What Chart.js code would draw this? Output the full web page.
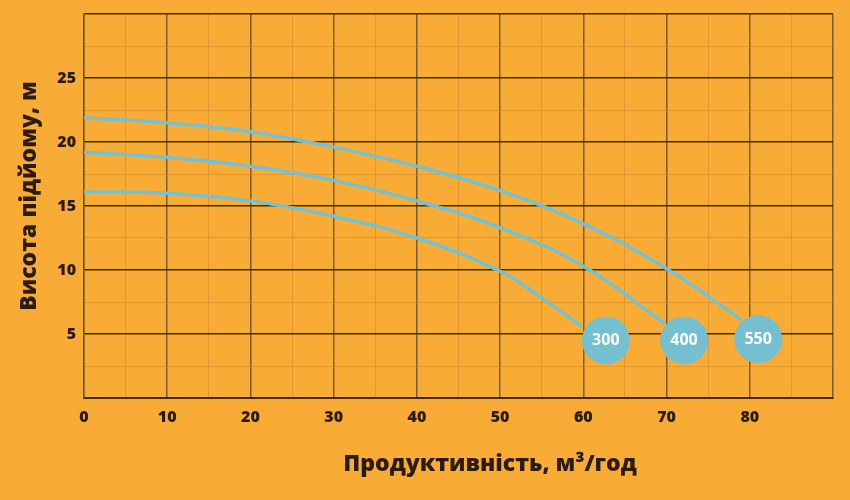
<!DOCTYPE html>
<html>
<head>
<meta charset="utf-8">
<script src="https://cdn.jsdelivr.net/npm/chart.js@4"></script>
<style>
  html, body { margin: 0; padding: 0; background: #F8AC36; }
  #wrap { width: 850px; height: 500px; }
</style>
</head>
<body>
<div id="wrap"><canvas id="c" width="850" height="500"></canvas></div>
<script>
// Flow (m³/h) and head (m)
const q550 = [0, 10, 20, 30, 40, 50, 60, 70, 79];
const h550 = [21.9, 21.5, 20.8, 19.6, 18.1, 16.2, 13.6, 10.1, 6.1];
const q400 = [0, 10, 20, 30, 40, 50, 60, 69.8];
const h400 = [19.2, 18.8, 18.1, 17.0, 15.4, 13.3, 10.3, 5.8];
const q300 = [0, 10, 20, 30, 40, 50, 55, 59.8];
const h300 = [16.1, 16.0, 15.4, 14.2, 12.5, 9.9, 7.8, 5.6];

const badgeNames = ['300', '400', '550'];
const badgeQ = [62.7, 72.1, 81.0];
const badgeH = [4.5, 4.5, 4.6];

const xTickLabels = ['0', '10', '20', '30', '40', '50', '60', '70', '80'];
const yTickLabels = ['5', '10', '15', '20', '25'];

const xTitle = 'Продуктивність, м³/год';
const yTitle = 'Висота підйому, м';

const FONT = '"Open Sans", Lato, sans-serif';
const TEXT = '#2A1C08';
const LINE = '#72C1D5';
const BADGE = '#74BFD0';

function pts(xs, ys) { return xs.map((x, i) => ({ x: x, y: ys[i] })); }

const curveStyle = {
  borderColor: LINE, borderWidth: 3.5, pointRadius: 0, fill: false,
  tension: 0.4, showLine: true
};

const titlesPlugin = {
  id: 'titles',
  afterDraw(chart) {
    const ctx = chart.ctx;
    ctx.save();
    ctx.fillStyle = TEXT;
    ctx.font = '800 23px ' + FONT;
    ctx.textAlign = 'center';
    ctx.textBaseline = 'middle';
    ctx.fillText(xTitle, 490, 464);
    ctx.translate(29, 196);
    ctx.rotate(-Math.PI / 2);
    ctx.fillText(yTitle, 0, 0);
    ctx.restore();
  }
};

const badgePlugin = {
  id: 'badges',
  afterDatasetsDraw(chart) {
    const ctx = chart.ctx;
    const meta = chart.getDatasetMeta(3);
    ctx.save();
    ctx.fillStyle = '#FFFFFF';
    ctx.font = 'bold 16px ' + FONT;
    ctx.textAlign = 'center';
    ctx.textBaseline = 'middle';
    meta.data.forEach((el, i) => {
      ctx.fillText(badgeNames[i], el.x, el.y);
    });
    ctx.restore();
  }
};

function noPad(s) { s.paddingTop = 0; s.paddingBottom = 0; s.paddingLeft = 0; s.paddingRight = 0; }

new Chart(document.getElementById('c'), {
  type: 'scatter',
  data: {
    datasets: [
      Object.assign({ label: '550', data: pts(q550, h550) }, curveStyle),
      Object.assign({ label: '400', data: pts(q400, h400) }, curveStyle),
      Object.assign({ label: '300', data: pts(q300, h300) }, curveStyle),
      {
        label: 'badges', data: pts(badgeQ, badgeH), showLine: false,
        pointRadius: 24, pointHoverRadius: 24, pointBackgroundColor: BADGE,
        pointBorderWidth: 0, borderColor: BADGE
      }
    ]
  },
  options: {
    responsive: false,
    animation: false,
    events: [],
    layout: { autoPadding: false, padding: { top: 14, right: 17, left: 0, bottom: 0 } },
    plugins: { legend: { display: false }, tooltip: { enabled: false } },
    scales: {
      x: {
        type: 'linear', min: 0, max: 90,
        afterFit(s) { s.height = 102; noPad(s); },
        ticks: {
          stepSize: 5, padding: 10, color: TEXT, autoSkip: false, maxRotation: 0,
          font: { family: FONT, size: 16, weight: '800' },
          callback(v) { const s = String(v); return xTickLabels.includes(s) ? s : ''; }
        },
        grid: {
          drawTicks: false,
          color(c) { return c.tick.value % 10 === 0 ? 'rgba(95,80,60,0.85)' : 'rgba(205,135,45,0.55)'; },
          lineWidth(c) { return c.tick.value % 10 === 0 ? 1.5 : 1; }
        },
        border: { color: '#3A2A12', width: 2 }
      },
      y: {
        type: 'linear', min: 0, max: 30,
        afterFit(s) { s.width = 84; noPad(s); },
        ticks: {
          stepSize: 2.5, padding: 8, color: TEXT, autoSkip: false,
          font: { family: FONT, size: 16, weight: '800' },
          callback(v) { const s = String(v); return yTickLabels.includes(s) ? s : ''; }
        },
        grid: {
          drawTicks: false,
          color(c) { return c.tick.value % 5 === 0 ? '#3A2A12' : 'rgba(205,135,45,0.55)'; },
          lineWidth(c) { return c.tick.value % 5 === 0 ? 1.5 : 1; }
        },
        border: { color: 'rgba(95,80,60,0.85)', width: 1.5 }
      }
    }
  },
  plugins: [titlesPlugin, badgePlugin]
});
</script>
</body>
</html>
